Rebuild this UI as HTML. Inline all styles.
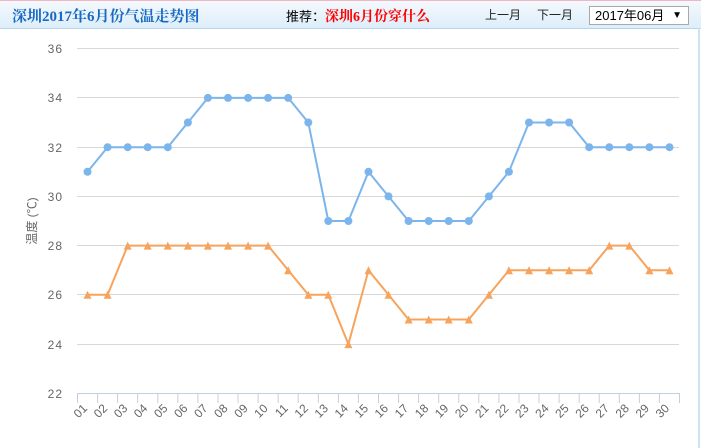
<!DOCTYPE html>
<html><head><meta charset="utf-8">
<style>
html,body{margin:0;padding:0;background:#fff;}
body{width:701px;height:448px;position:relative;overflow:hidden;font-family:"Liberation Sans","Noto Sans CJK SC",sans-serif;}
.hdr{position:absolute;left:0;top:0;width:701px;height:28px;background:linear-gradient(#f4f9fd,#ddeefa);border-bottom:1px solid #b7d4ec;border-top:1px solid #f2b6c0;box-sizing:border-box;height:29px;}
.title{position:absolute;left:12px;top:5px;font-family:"Liberation Serif","Noto Serif CJK SC",serif;font-weight:bold;font-size:15px;color:#1769c2;white-space:nowrap;letter-spacing:0px;}
.rec{position:absolute;left:286px;top:6px;font-size:13px;color:#000;white-space:nowrap;}
.rec b{color:#f00;font-size:14px;font-family:"Liberation Serif","Noto Serif CJK SC",serif;}
.nav{position:absolute;top:6px;font-size:12px;color:#222;white-space:nowrap;}
.sel{position:absolute;left:589px;top:6px;width:100px;height:19px;border:1px solid #a9a9a9;background:#fff;box-sizing:border-box;font-size:13px;color:#000;line-height:17px;padding-left:5px;}
.sel span{position:absolute;right:6px;top:0;font-size:10px;}
.rb{position:absolute;left:698px;top:28px;width:2px;height:420px;background:#cfe2f3;}
</style></head><body>
<div class="hdr"></div>
<div class="title">深圳2017年6月份气温走势图</div>
<div class="rec">推荐：<b>深圳6月份穿什么</b></div>
<div class="nav" style="left:485px;">上一月</div>
<div class="nav" style="left:537px;">下一月</div>
<div class="sel">2017年06月<span>▼</span></div>
<div class="rb"></div>
<svg width="701" height="448" style="position:absolute;left:0;top:0" xmlns="http://www.w3.org/2000/svg">
<g stroke="#d8d8d8" stroke-width="1">
<line x1="77" y1="48.5" x2="679" y2="48.5"/>
<line x1="77" y1="97.5" x2="679" y2="97.5"/>
<line x1="77" y1="147.5" x2="679" y2="147.5"/>
<line x1="77" y1="196.5" x2="679" y2="196.5"/>
<line x1="77" y1="245.5" x2="679" y2="245.5"/>
<line x1="77" y1="294.5" x2="679" y2="294.5"/>
<line x1="77" y1="344.5" x2="679" y2="344.5"/>
</g>
<g stroke="#c0d0e0" stroke-width="1">
<line x1="77" y1="393.5" x2="680" y2="393.5"/>
<line x1="77.5" y1="393" x2="77.5" y2="403"/><line x1="97.6" y1="393" x2="97.6" y2="403"/><line x1="117.6" y1="393" x2="117.6" y2="403"/><line x1="137.7" y1="393" x2="137.7" y2="403"/><line x1="157.8" y1="393" x2="157.8" y2="403"/><line x1="177.8" y1="393" x2="177.8" y2="403"/><line x1="197.9" y1="393" x2="197.9" y2="403"/><line x1="218" y1="393" x2="218" y2="403"/><line x1="238" y1="393" x2="238" y2="403"/><line x1="258.1" y1="393" x2="258.1" y2="403"/><line x1="278.2" y1="393" x2="278.2" y2="403"/><line x1="298.2" y1="393" x2="298.2" y2="403"/><line x1="318.3" y1="393" x2="318.3" y2="403"/><line x1="338.4" y1="393" x2="338.4" y2="403"/><line x1="358.4" y1="393" x2="358.4" y2="403"/><line x1="378.5" y1="393" x2="378.5" y2="403"/><line x1="398.6" y1="393" x2="398.6" y2="403"/><line x1="418.6" y1="393" x2="418.6" y2="403"/><line x1="438.7" y1="393" x2="438.7" y2="403"/><line x1="458.8" y1="393" x2="458.8" y2="403"/><line x1="478.8" y1="393" x2="478.8" y2="403"/><line x1="498.9" y1="393" x2="498.9" y2="403"/><line x1="519" y1="393" x2="519" y2="403"/><line x1="539" y1="393" x2="539" y2="403"/><line x1="559.1" y1="393" x2="559.1" y2="403"/><line x1="579.2" y1="393" x2="579.2" y2="403"/><line x1="599.2" y1="393" x2="599.2" y2="403"/><line x1="619.3" y1="393" x2="619.3" y2="403"/><line x1="639.4" y1="393" x2="639.4" y2="403"/><line x1="659.4" y1="393" x2="659.4" y2="403"/><line x1="679.5" y1="393" x2="679.5" y2="403"/>
</g>
<g font-family="Liberation Sans, sans-serif" font-size="12" fill="#666" text-anchor="end" letter-spacing="1">
<text x="63" y="53">36</text>
<text x="63" y="102">34</text>
<text x="63" y="152">32</text>
<text x="63" y="201">30</text>
<text x="63" y="250">28</text>
<text x="63" y="299">26</text>
<text x="63" y="349">24</text>
<text x="63" y="398">22</text>
</g>
<text transform="translate(36,221) rotate(-90)" text-anchor="middle" font-family="Liberation Sans, Noto Sans CJK SC, sans-serif" font-size="12" fill="#666">温度 (℃)</text>
<g font-family="Liberation Sans, sans-serif" font-size="12" fill="#666" text-anchor="end">
<text transform="translate(88,409) rotate(-45)">01</text>
<text transform="translate(108.1,409) rotate(-45)">02</text>
<text transform="translate(128.2,409) rotate(-45)">03</text>
<text transform="translate(148.2,409) rotate(-45)">04</text>
<text transform="translate(168.3,409) rotate(-45)">05</text>
<text transform="translate(188.4,409) rotate(-45)">06</text>
<text transform="translate(208.4,409) rotate(-45)">07</text>
<text transform="translate(228.5,409) rotate(-45)">08</text>
<text transform="translate(248.6,409) rotate(-45)">09</text>
<text transform="translate(268.6,409) rotate(-45)">10</text>
<text transform="translate(288.7,409) rotate(-45)">11</text>
<text transform="translate(308.8,409) rotate(-45)">12</text>
<text transform="translate(328.8,409) rotate(-45)">13</text>
<text transform="translate(348.9,409) rotate(-45)">14</text>
<text transform="translate(369,409) rotate(-45)">15</text>
<text transform="translate(389,409) rotate(-45)">16</text>
<text transform="translate(409.1,409) rotate(-45)">17</text>
<text transform="translate(429.2,409) rotate(-45)">18</text>
<text transform="translate(449.2,409) rotate(-45)">19</text>
<text transform="translate(469.3,409) rotate(-45)">20</text>
<text transform="translate(489.4,409) rotate(-45)">21</text>
<text transform="translate(509.4,409) rotate(-45)">22</text>
<text transform="translate(529.5,409) rotate(-45)">23</text>
<text transform="translate(549.6,409) rotate(-45)">24</text>
<text transform="translate(569.6,409) rotate(-45)">25</text>
<text transform="translate(589.7,409) rotate(-45)">26</text>
<text transform="translate(609.8,409) rotate(-45)">27</text>
<text transform="translate(629.8,409) rotate(-45)">28</text>
<text transform="translate(649.9,409) rotate(-45)">29</text>
<text transform="translate(670,409) rotate(-45)">30</text>
</g>
<polyline fill="none" stroke="#7cb5ec" stroke-width="2" stroke-linejoin="round" points="87.5,171.8 107.6,147.2 127.7,147.2 147.7,147.2 167.8,147.2 187.9,122.5 207.9,97.9 228,97.9 248.1,97.9 268.1,97.9 288.2,97.9 308.3,122.5 328.3,221 348.4,221 368.5,171.8 388.5,196.4 408.6,221 428.7,221 448.7,221 468.8,221 488.9,196.4 508.9,171.8 529,122.5 549.1,122.5 569.1,122.5 589.2,147.2 609.3,147.2 629.3,147.2 649.4,147.2 669.5,147.2"/>
<g fill="#7cb5ec">
<circle cx="87.5" cy="171.8" r="4"/><circle cx="107.6" cy="147.2" r="4"/><circle cx="127.7" cy="147.2" r="4"/><circle cx="147.7" cy="147.2" r="4"/><circle cx="167.8" cy="147.2" r="4"/><circle cx="187.9" cy="122.5" r="4"/><circle cx="207.9" cy="97.9" r="4"/><circle cx="228" cy="97.9" r="4"/><circle cx="248.1" cy="97.9" r="4"/><circle cx="268.1" cy="97.9" r="4"/><circle cx="288.2" cy="97.9" r="4"/><circle cx="308.3" cy="122.5" r="4"/><circle cx="328.3" cy="221" r="4"/><circle cx="348.4" cy="221" r="4"/><circle cx="368.5" cy="171.8" r="4"/><circle cx="388.5" cy="196.4" r="4"/><circle cx="408.6" cy="221" r="4"/><circle cx="428.7" cy="221" r="4"/><circle cx="448.7" cy="221" r="4"/><circle cx="468.8" cy="221" r="4"/><circle cx="488.9" cy="196.4" r="4"/><circle cx="508.9" cy="171.8" r="4"/><circle cx="529" cy="122.5" r="4"/><circle cx="549.1" cy="122.5" r="4"/><circle cx="569.1" cy="122.5" r="4"/><circle cx="589.2" cy="147.2" r="4"/><circle cx="609.3" cy="147.2" r="4"/><circle cx="629.3" cy="147.2" r="4"/><circle cx="649.4" cy="147.2" r="4"/><circle cx="669.5" cy="147.2" r="4"/>
</g>
<polyline fill="none" stroke="#f7a35c" stroke-width="2" stroke-linejoin="round" points="87.5,294.8 107.6,294.8 127.7,245.6 147.7,245.6 167.8,245.6 187.9,245.6 207.9,245.6 228,245.6 248.1,245.6 268.1,245.6 288.2,270.2 308.3,294.8 328.3,294.8 348.4,344.1 368.5,270.2 388.5,294.8 408.6,319.5 428.7,319.5 448.7,319.5 468.8,319.5 488.9,294.8 508.9,270.2 529,270.2 549.1,270.2 569.1,270.2 589.2,270.2 609.3,245.6 629.3,245.6 649.4,270.2 669.5,270.2"/>
<g fill="#f7a35c">
<path d="M87.5,290.8l4,8h-8z M107.6,290.8l4,8h-8z M127.7,241.6l4,8h-8z M147.7,241.6l4,8h-8z M167.8,241.6l4,8h-8z M187.9,241.6l4,8h-8z M207.9,241.6l4,8h-8z M228,241.6l4,8h-8z M248.1,241.6l4,8h-8z M268.1,241.6l4,8h-8z M288.2,266.2l4,8h-8z M308.3,290.8l4,8h-8z M328.3,290.8l4,8h-8z M348.4,340.1l4,8h-8z M368.5,266.2l4,8h-8z M388.5,290.8l4,8h-8z M408.6,315.5l4,8h-8z M428.7,315.5l4,8h-8z M448.7,315.5l4,8h-8z M468.8,315.5l4,8h-8z M488.9,290.8l4,8h-8z M508.9,266.2l4,8h-8z M529,266.2l4,8h-8z M549.1,266.2l4,8h-8z M569.1,266.2l4,8h-8z M589.2,266.2l4,8h-8z M609.3,241.6l4,8h-8z M629.3,241.6l4,8h-8z M649.4,266.2l4,8h-8z M669.5,266.2l4,8h-8z"/>
</g>
</svg>
</body></html>
